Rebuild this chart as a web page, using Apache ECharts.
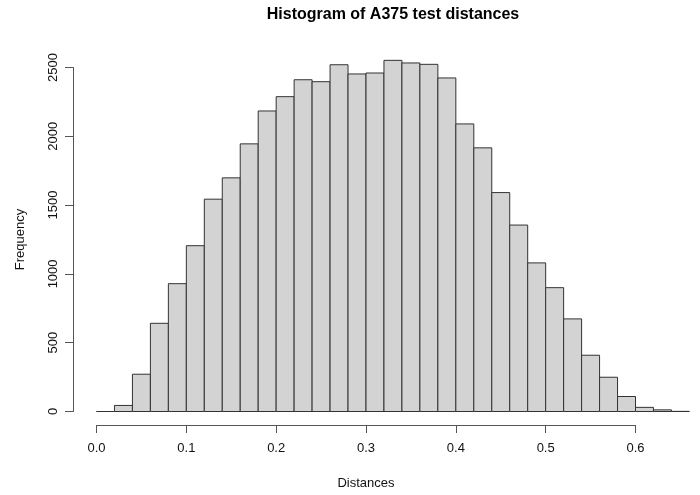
<!DOCTYPE html>
<html>
<head>
<meta charset="utf-8">
<script src="https://cdn.jsdelivr.net/npm/echarts@6/dist/echarts.min.js"></script>
<style>
  html, body { margin: 0; padding: 0; background: #fff; }
  #chart { width: 700px; height: 495px; }
</style>
</head>
<body>
<div id="chart"></div>
<script>
// Bin edges (Distances)
var breaks = [0.00, 0.02, 0.04, 0.06, 0.08, 0.10, 0.12, 0.14, 0.16, 0.18, 0.20,
              0.22, 0.24, 0.26, 0.28, 0.30, 0.32, 0.34, 0.36, 0.38, 0.40,
              0.42, 0.44, 0.46, 0.48, 0.50, 0.52, 0.54, 0.56, 0.58, 0.60,
              0.62, 0.64, 0.66];
// Frequency per bin
var counts = [0, 44, 271, 641, 929, 1205, 1543, 1698, 1945, 2184, 2288,
              2411, 2397, 2520, 2453, 2460, 2552, 2533, 2523, 2424, 2090,
              1916, 1591, 1355, 1080, 900, 673, 409, 249, 109, 30,
              12, 1];
var xTicks = [0.0, 0.1, 0.2, 0.3, 0.4, 0.5, 0.6];
var yTicks = [0, 500, 1000, 1500, 2000, 2500];
var titleText = 'Histogram of A375 test distances';
var xName = 'Distances';
var yName = 'Frequency';

var data = counts.map(function (c, i) { return [breaks[i], breaks[i + 1], c]; });

var FONT = "'Liberation Sans', Arial, Helvetica, sans-serif";
var chart = echarts.init(document.getElementById('chart'), null, { renderer: 'canvas' });
chart.setOption({
  backgroundColor: '#ffffff',
  animation: false,
  title: {
    text: titleText,
    left: 393,
    top: 7,
    padding: 0,
    textAlign: 'center',
    textStyle: { fontFamily: FONT, fontSize: 16, fontWeight: 'bold', color: '#000' }
  },
  grid: { left: 96.5, right: 64.5, top: 67.5, bottom: 82.5, containLabel: false },
  xAxis: {
    type: 'value',
    min: xTicks[0],
    max: xTicks[xTicks.length - 1],
    interval: 0.1,
    offset: 13.5,
    name: xName,
    nameLocation: 'middle',
    nameGap: 52,
    nameTextStyle: { fontFamily: FONT, fontSize: 13, color: '#111' },
    axisLine: { show: true, onZero: false, lineStyle: { color: '#555', width: 1 } },
    axisTick: { show: true, length: 8, lineStyle: { color: '#555', width: 1 } },
    axisLabel: {
      fontFamily: FONT, fontSize: 13, color: '#111', margin: 17,
      formatter: function (v) { return v.toFixed(1); },
      showMinLabel: true, showMaxLabel: true
    },
    splitLine: { show: false }
  },
  yAxis: {
    type: 'value',
    min: yTicks[0],
    max: yTicks[yTicks.length - 1],
    interval: 500,
    offset: 23.5,
    name: yName,
    nameLocation: 'middle',
    nameGap: 46,
    nameTextStyle: { fontFamily: FONT, fontSize: 13, color: '#111' },
    axisLine: { show: true, onZero: false, lineStyle: { color: '#555', width: 1 } },
    axisTick: { show: true, length: 8, lineStyle: { color: '#555', width: 1 } },
    axisLabel: {
      fontFamily: FONT, fontSize: 13, color: '#111', margin: 13, rotate: 90,
      formatter: function (v) { return String(v); },
      showMinLabel: true, showMaxLabel: true
    },
    splitLine: { show: false }
  },
  series: [{
    type: 'custom',
    clip: false,
    data: data,
    encode: { x: [0, 1], y: 2 },
    renderItem: function (params, api) {
      var p0 = api.coord([api.value(0), api.value(2)]);
      var p1 = api.coord([api.value(1), 0]);
      return {
        type: 'rect',
        shape: { x: p0[0], y: p0[1], width: p1[0] - p0[0], height: p1[1] - p0[1] },
        style: { fill: '#d3d3d3', stroke: '#333', lineWidth: 1 }
      };
    }
  }]
});
</script>
</body>
</html>
